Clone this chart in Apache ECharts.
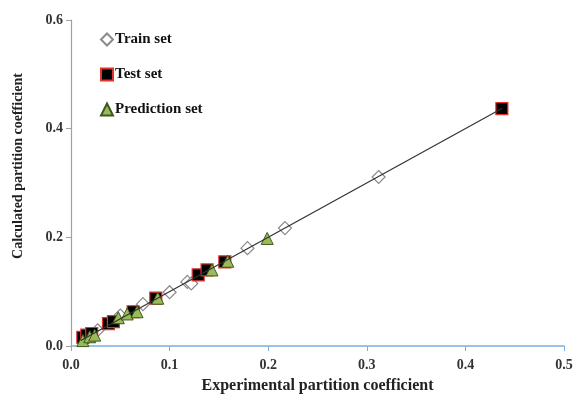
<!DOCTYPE html>
<html>
<head>
<meta charset="utf-8">
<script src="https://cdn.jsdelivr.net/npm/echarts@6/dist/echarts.min.js"></script>
<style>
  html, body { margin: 0; padding: 0; background: #fff; }
  #main { width: 576px; height: 395px; }
</style>
</head>
<body>
<div id="main"></div>
<script>
// experimental vs calculated values
var trainSet = [
    [0.027, 0.029], [0.050, 0.056], [0.073, 0.077], [0.100, 0.099],
    [0.118, 0.118], [0.122, 0.115], [0.179, 0.180], [0.217, 0.217],
    [0.312, 0.311]
];
var testSet = [
    [0.012, 0.016], [0.016, 0.020], [0.021, 0.023], [0.038, 0.041],
    [0.043, 0.045], [0.063, 0.063], [0.086, 0.088], [0.129, 0.131],
    [0.138, 0.140], [0.156, 0.155], [0.437, 0.437]
];
var predictionSet = [
    [0.012, 0.010], [0.019, 0.017], [0.024, 0.020], [0.048, 0.052],
    [0.057, 0.059], [0.067, 0.063], [0.088, 0.088], [0.143, 0.140],
    [0.159, 0.156], [0.199, 0.198]
];
var fitLine = [[0.01, 0.01], [0.437, 0.437]];
var xTicks = [0, 0.5, 0.1];
var yTicks = [0, 0.6, 0.2];

var serif = '"Liberation Serif", "DejaVu Serif", serif';
var myChart = echarts.init(document.getElementById('main'));
var option = {
    animation: false,
    textStyle: { fontFamily: serif },
    grid: {
        left: 71,
        right: 12,
        top: 20,
        bottom: 49,
        outerBoundsMode: 'none'
    },
    legend: {
        orient: 'vertical',
        left: 95,
        top: 27,
        itemGap: 20,
        itemWidth: 12,
        itemHeight: 12,
        textStyle: { fontFamily: serif, fontWeight: 'bold', fontSize: 15, color: '#111', padding: [0, 0, 0, -3] },
        data: ['Train set', 'Test set', 'Prediction set']
    },
    xAxis: {
        type: 'value',
        min: xTicks[0],
        max: xTicks[1],
        interval: xTicks[2],
        name: 'Experimental partition coefficient',
        nameLocation: 'middle',
        nameGap: 32,
        nameTextStyle: { fontFamily: serif, fontWeight: 'bold', fontSize: 16, color: '#222' },
        axisLine: { lineStyle: { color: '#7aaee0', width: 1.5 } },
        axisTick: { show: true, length: 5, lineStyle: { color: '#7aaee0' } },
        axisLabel: {
            margin: 12,
            fontFamily: serif, fontWeight: 'bold', fontSize: 14, color: '#333',
            formatter: function (v) { return v.toFixed(1); }
        },
        splitLine: { show: false }
    },
    yAxis: {
        type: 'value',
        min: yTicks[0],
        max: yTicks[1],
        interval: yTicks[2],
        name: 'Calculated partition coefficient',
        nameLocation: 'middle',
        nameGap: 46,
        nameTextStyle: { fontFamily: serif, fontWeight: 'bold', fontSize: 14, color: '#222', padding: [0, 0, 0, 34] },
        axisLine: { show: true, lineStyle: { color: '#a0a0a0', width: 1.2 } },
        axisTick: { show: true, length: 5, lineStyle: { color: '#a0a0a0' } },
        axisLabel: {
            margin: 8,
            fontFamily: serif, fontWeight: 'bold', fontSize: 14, color: '#333',
            formatter: function (v) { return v.toFixed(1); }
        },
        splitLine: { show: false }
    },
    series: [
        {
            name: 'Train set',
            type: 'scatter',
            symbol: 'diamond',
            symbolSize: 13,
            itemStyle: { color: '#fff', borderColor: '#8a8a8a', borderWidth: 1.2, opacity: 1 },
            data: trainSet,
            z: 2
        },
        {
            name: 'Test set',
            type: 'scatter',
            symbol: 'rect',
            symbolSize: 12,
            itemStyle: { color: '#000', borderColor: '#e0342e', borderWidth: 1.2, opacity: 1 },
            data: testSet,
            z: 3
        },
        {
            name: 'Prediction set',
            type: 'scatter',
            symbol: 'triangle',
            symbolSize: 12,
            itemStyle: { color: '#9bbb59', borderColor: '#3d5a1e', borderWidth: 1, opacity: 1 },
            data: predictionSet,
            z: 4
        },
        {
            type: 'line',
            data: fitLine,
            symbol: 'none',
            silent: true,
            lineStyle: { color: '#333', width: 1.2 },
            z: 5
        }
    ]
};
myChart.setOption(option);
</script>
</body>
</html>
